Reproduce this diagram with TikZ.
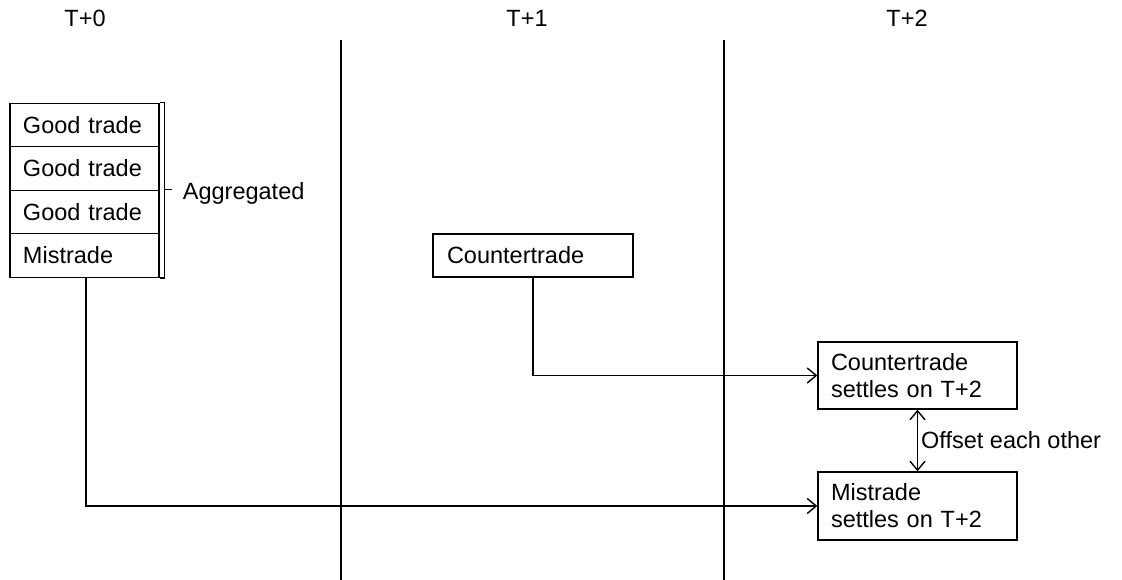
\documentclass[tikz,border=0pt]{standalone}
\usepackage{fontspec}
\setmainfont{Liberation Sans}
\usetikzlibrary{arrows.meta}
\begin{document}
\begin{tikzpicture}[x=1pt,y=-1pt,
  every node/.style={font=\fontsize{23.5}{27}\selectfont},
  ln/.style={line width=1.4pt},
  box/.style={draw,line width=1.4pt,rectangle,align=left,inner xsep=13pt,inner ysep=0pt},
  rowbox/.style={box,minimum width=149pt,text width=123pt,minimum height=43.5pt},
  arr/.style={ln,-{Straight Barb[length=9pt,width=15pt,line width=1.4pt]}},
  darr/.style={ln,{Straight Barb[length=9pt,width=15pt,line width=1.4pt]}-{Straight Barb[length=9pt,width=15pt,line width=1.4pt]}}
]
\useasboundingbox (0,0) rectangle (1122,580);
% headers
\node (h0) at (85,18) {T+0};
\node (h1) at (527,18) {T+1};
\node (h2) at (907,18) {T+2};
% dividers
\coordinate (d1t) at (341,40);
\coordinate (d1b) at (341,580);
\coordinate (d2t) at (724,40);
\coordinate (d2b) at (724,580);
\draw[ln] (d1t) -- (d1b);
\draw[ln] (d2t) -- (d2b);
% stack
\node[rowbox] (g1) at (84.5,125) {Good trade};
\node[rowbox] (g2) at (84.5,168.5) {Good trade};
\node[rowbox] (g3) at (84.5,212) {Good trade};
\node[rowbox] (mis) at (84.5,255.5) {Mistrade};
% bracket
\draw[ln] (g1.north east) -- ++(5,0) coordinate (bt) |- (mis.south east);
\coordinate (bm) at (bt |- g3.north);
\coordinate (bte) at ([xshift=7pt]bm);
\draw[ln] (bm) -- (bte);
\node[anchor=west,inner sep=0pt] (agg) at ([xshift=11pt,yshift=-4pt]bte) {Aggregated};
% countertrade
\node[box,minimum width=200pt,text width=172pt,minimum height=43pt] (ct) at (533,255.5) {Countertrade};
% settle boxes
\node[box,minimum width=199pt,text width=173pt,minimum height=67pt] (s1) at (917.5,375.5) {Countertrade\\settles on T+2};
\node[box,minimum width=199pt,text width=173pt,minimum height=68pt] (s2) at (917.5,506) {Mistrade\\settles on T+2};
% connectors
\draw[arr] (ct.south) |- (s1.west);
\draw[arr] ([xshift=1.5pt]mis.south) |- (s2.west);
\draw[darr] (s1.south) -- node[right,inner sep=3pt] (off) {Offset each other} (s2.north);
\end{tikzpicture}
\end{document}
